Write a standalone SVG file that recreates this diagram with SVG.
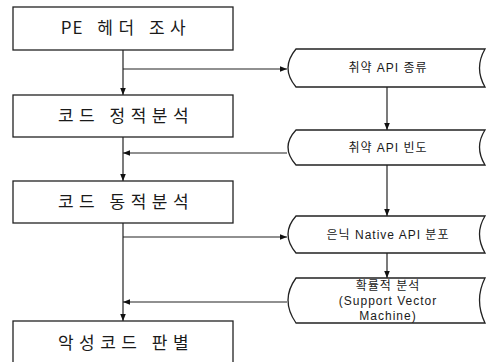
<svg xmlns="http://www.w3.org/2000/svg" width="488" height="362" viewBox="0 0 488 362">
<style>
.box{fill:#fff;stroke:#222;stroke-width:1.3}
.ln{fill:none;stroke:#222;stroke-width:1.2}
.bt{font-family:"Noto Sans CJK KR","Liberation Sans",sans-serif;font-size:17px;fill:#1a1a1a;text-anchor:middle;letter-spacing:5.5px}
.st{font-family:"Liberation Sans","Noto Sans CJK KR",sans-serif;font-size:12px;fill:#1a1a1a;text-anchor:middle;letter-spacing:1px}
</style>
<defs>
<marker id="ah" viewBox="0 0 10 10" refX="10" refY="5" markerWidth="7" markerHeight="7" orient="auto" markerUnits="userSpaceOnUse">
<path d="M0,1 L10,5 L0,9 Z" fill="#111"/>
</marker>
</defs>
<g id="connectors">
<line class="ln" x1="123" y1="50" x2="123" y2="95" marker-end="url(#ah)"/>
<line class="ln" x1="123" y1="137" x2="123" y2="181" marker-end="url(#ah)"/>
<line class="ln" x1="123" y1="223" x2="123" y2="321" marker-end="url(#ah)"/>
<line class="ln" x1="123" y1="69" x2="287" y2="69" marker-end="url(#ah)"/>
<line class="ln" x1="287" y1="153" x2="123" y2="153" marker-end="url(#ah)"/>
<line class="ln" x1="123" y1="237" x2="287" y2="237" marker-end="url(#ah)"/>
<line class="ln" x1="287" y1="302" x2="123" y2="302" marker-end="url(#ah)"/>
<line class="ln" x1="387" y1="87" x2="387" y2="130" marker-end="url(#ah)"/>
<line class="ln" x1="387" y1="165" x2="387" y2="216" marker-end="url(#ah)"/>
<line class="ln" x1="387" y1="253" x2="387" y2="278" marker-end="url(#ah)"/>
</g>
<g id="n1"><rect class="box" x="13" y="7" width="220" height="43"/><text class="bt" x="126" y="34"><tspan letter-spacing="1px">P</tspan>E 헤더 조사</text></g>
<g id="n2"><rect class="box" x="13" y="95" width="220" height="42"/><text class="bt" x="126" y="122">코드 정적분석</text></g>
<g id="n3"><rect class="box" x="13" y="181" width="220" height="42"/><text class="bt" x="126" y="208">코드 동적분석</text></g>
<g id="n4"><rect class="box" x="13" y="321" width="220" height="50"/><text class="bt" x="126" y="349">악성코드 판별</text></g>
<g id="s1"><path class="box" d="M296,49 L485,49 Q474,68 485,87 L296,87 Q280,68 296,49 Z"/><text class="st" x="388" y="72">취약 API 종류</text></g>
<g id="s2"><path class="box" d="M296,130 L485,130 Q474,147 485,165 L296,165 Q280,147 296,130 Z"/><text class="st" x="388" y="152">취약 API 빈도</text></g>
<g id="s3"><path class="box" d="M296,216 L485,216 Q474,234 485,253 L296,253 Q280,234 296,216 Z"/><text class="st" x="388" y="239">은닉 Native API 분포</text></g>
<g id="s4"><path class="box" d="M296,278 L485,278 Q474,300 485,323 L296,323 Q280,300 296,278 Z"/><text class="st" x="388" y="290">확률적 분석</text><text class="st" x="388" y="305">(Support Vector</text><text class="st" x="388" y="320">Machine)</text></g>
</svg>
